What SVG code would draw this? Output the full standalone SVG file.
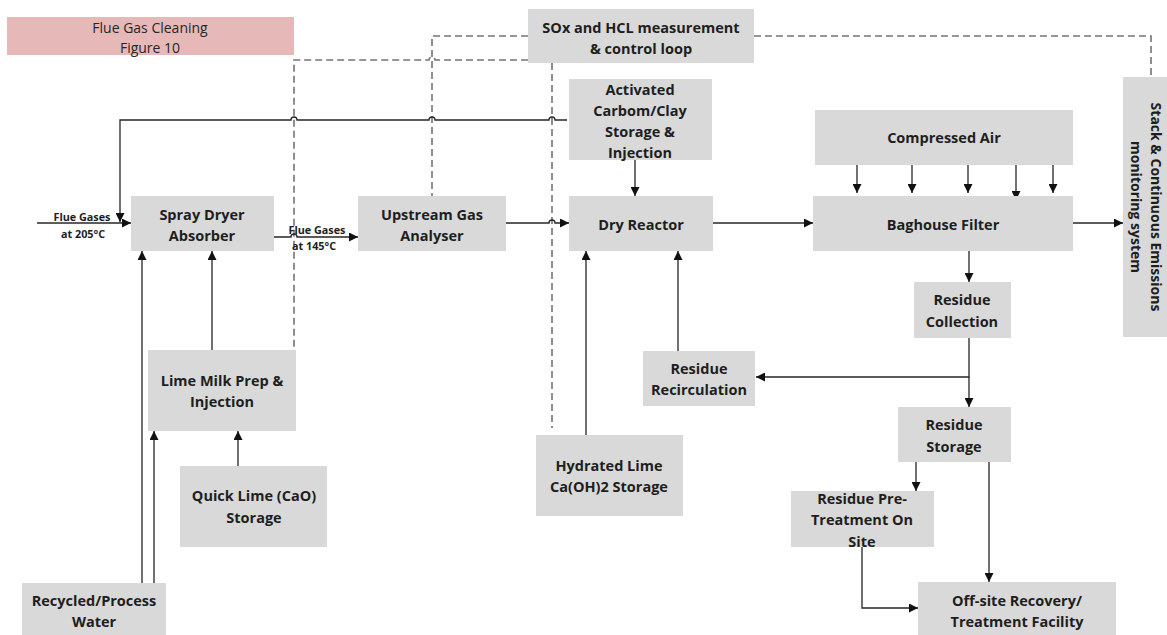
<svg xmlns="http://www.w3.org/2000/svg" width="1167" height="635" viewBox="0 0 1167 635">
  <style>
    .box { fill: #d9d9d9; }
    .lbl { font-family: "Open Sans", "Liberation Sans", sans-serif; font-size: 14.5px; font-weight: bold; fill: #1e1e1e; text-anchor: middle; dominant-baseline: central; }
    .vert { font-size: 14px; }
    .small { font-family: "Open Sans", "Liberation Sans", sans-serif; font-size: 10.8px; font-weight: bold; fill: #1e1e1e; text-anchor: middle; dominant-baseline: central; }
    .title { font-family: "Open Sans", "Liberation Sans", sans-serif; font-size: 14px; fill: #262626; text-anchor: middle; dominant-baseline: central; }
    .flow { fill: none; stroke: #262626; stroke-width: 1.3; }
    .ctrl { fill: none; stroke: #747474; stroke-width: 1.6; stroke-dasharray: 7 4; }
  </style>
  <defs>
    <marker id="arrow" viewBox="0 0 10 10" refX="10" refY="5" markerWidth="9" markerHeight="9" markerUnits="userSpaceOnUse" orient="auto">
      <path d="M0,0 L10,5 L0,10 Z" fill="#111"/>
    </marker>
  </defs>

  <rect width="1167" height="635" fill="#ffffff"/>

  <!-- caption block -->
  <g id="title">
    <rect x="7" y="17" width="287" height="38" fill="#e6b9b8"/>
    <text class="title" x="150" y="27">Flue Gas Cleaning</text>
    <text class="title" x="150" y="47">Figure 10</text>
  </g>

  <!-- process and control connectors -->
  <g id="connectors">
    <!-- control loop signals (dashed) -->
    <path class="ctrl" d="M754,36 H1151 V77"/>
    <path class="ctrl" d="M528,36 H432 V196"/>
    <path class="ctrl" d="M528,60 H435 a3,3 0 0 0 -6,0 H294 V350"/>
    <path class="ctrl" d="M552,63 V428"/>

    <!-- gas path -->
    <path class="flow" d="M37,223 H131" marker-end="url(#arrow)"/>
    <path class="flow" d="M567,120 H555 a3,3 0 0 0 -6,0 H435 a3,3 0 0 0 -6,0 H297 a3,3 0 0 0 -6,0 H120 V222" marker-end="url(#arrow)"/>
    <path class="flow" d="M274,237 H291 a3,3 0 0 1 6,0 H358" marker-end="url(#arrow)"/>
    <path class="flow" d="M506,223 H549 a3,3 0 0 1 6,0 H569" marker-end="url(#arrow)"/>
    <path class="flow" d="M635,160 V196" marker-end="url(#arrow)"/>
    <path class="flow" d="M713,223 H813" marker-end="url(#arrow)"/>
    <path class="flow" d="M1073,223 H1123" marker-end="url(#arrow)"/>

    <!-- compressed air pulses -->
    <path class="flow" d="M857,165 V193" marker-end="url(#arrow)"/>
    <path class="flow" d="M912,165 V193" marker-end="url(#arrow)"/>
    <path class="flow" d="M968,165 V193" marker-end="url(#arrow)"/>
    <path class="flow" d="M1016,165 V200" marker-end="url(#arrow)"/>
    <path class="flow" d="M1050,155 H1053 V193" marker-end="url(#arrow)"/>

    <!-- residue handling -->
    <path class="flow" d="M969,251 V282" marker-end="url(#arrow)"/>
    <path class="flow" d="M969,338 V377 H756" marker-end="url(#arrow)"/>
    <path class="flow" d="M969,377 V407" marker-end="url(#arrow)"/>
    <path class="flow" d="M678,351 V251" marker-end="url(#arrow)"/>
    <path class="flow" d="M586,435 V251" marker-end="url(#arrow)"/>
    <path class="flow" d="M916,462 V491" marker-end="url(#arrow)"/>
    <path class="flow" d="M989,462 V582" marker-end="url(#arrow)"/>
    <path class="flow" d="M862,547 V608 H918" marker-end="url(#arrow)"/>

    <!-- reagent feeds -->
    <path class="flow" d="M142,583 V251" marker-end="url(#arrow)"/>
    <path class="flow" d="M154,583 V431" marker-end="url(#arrow)"/>
    <path class="flow" d="M212,350 V251" marker-end="url(#arrow)"/>
    <path class="flow" d="M238,466 V431" marker-end="url(#arrow)"/>
  </g>

  <!-- flow labels -->
  <g id="gas-labels">
    <text class="small" x="82" y="216">Flue Gases</text>
    <text class="small" x="83" y="233">at 205°C</text>
    <text class="small" x="317" y="229">Flue Gases</text>
    <text class="small" x="314" y="245">at 145°C</text>
  </g>

  <g id="sox-hcl-loop">
    <rect class="box" x="528" y="9" width="226" height="54"/>
    <text class="lbl" x="641" y="27">SOx and HCL measurement</text>
    <text class="lbl" x="641" y="48">&amp; control loop</text>
  </g>

  <g id="activated-carbon">
    <rect class="box" x="569" y="79" width="143" height="81"/>
    <text class="lbl" x="640" y="89">Activated</text>
    <text class="lbl" x="640" y="110">Carbom/Clay</text>
    <text class="lbl" x="640" y="131">Storage &amp;</text>
    <text class="lbl" x="640" y="152">Injection</text>
  </g>

  <g id="compressed-air">
    <rect class="box" x="815" y="110" width="258" height="55"/>
    <text class="lbl" x="944" y="137">Compressed Air</text>
  </g>

  <g id="stack-cems">
    <rect class="box" x="1123" y="77" width="50" height="260"/>
    <g transform="translate(1146,207) rotate(90)">
      <text class="lbl vert" x="0" y="-10">Stack &amp; Continuous Emissions</text>
      <text class="lbl vert" x="0" y="10">monitoring system</text>
    </g>
  </g>

  <g id="spray-dryer">
    <rect class="box" x="131" y="196" width="143" height="55"/>
    <text class="lbl" x="202" y="214">Spray Dryer</text>
    <text class="lbl" x="202" y="235">Absorber</text>
  </g>

  <g id="upstream-analyser">
    <rect class="box" x="358" y="196" width="148" height="55"/>
    <text class="lbl" x="432" y="214">Upstream Gas</text>
    <text class="lbl" x="432" y="235">Analyser</text>
  </g>

  <g id="dry-reactor">
    <rect class="box" x="569" y="196" width="144" height="55"/>
    <text class="lbl" x="641" y="224">Dry Reactor</text>
  </g>

  <g id="baghouse">
    <rect class="box" x="813" y="196" width="260" height="55"/>
    <text class="lbl" x="943" y="224">Baghouse Filter</text>
  </g>

  <g id="residue-collection">
    <rect class="box" x="914" y="282" width="97" height="56"/>
    <text class="lbl" x="962" y="299">Residue</text>
    <text class="lbl" x="962" y="321">Collection</text>
  </g>

  <g id="residue-recirculation">
    <rect class="box" x="643" y="351" width="112" height="55"/>
    <text class="lbl" x="699" y="368">Residue</text>
    <text class="lbl" x="699" y="389">Recirculation</text>
  </g>

  <g id="residue-storage">
    <rect class="box" x="898" y="407" width="113" height="55"/>
    <text class="lbl" x="954" y="424">Residue</text>
    <text class="lbl" x="954" y="446">Storage</text>
  </g>

  <g id="residue-pretreatment">
    <rect class="box" x="791" y="491" width="143" height="56"/>
    <text class="lbl" x="862" y="498">Residue Pre-</text>
    <text class="lbl" x="862" y="519">Treatment On</text>
    <text class="lbl" x="862" y="541">Site</text>
  </g>

  <g id="offsite-facility">
    <rect class="box" x="918" y="582" width="198" height="60"/>
    <text class="lbl" x="1017" y="600">Off-site Recovery/</text>
    <text class="lbl" x="1017" y="621">Treatment Facility</text>
  </g>

  <g id="lime-milk">
    <rect class="box" x="148" y="350" width="148" height="81"/>
    <text class="lbl" x="222" y="380">Lime Milk Prep &amp;</text>
    <text class="lbl" x="222" y="401">Injection</text>
  </g>

  <g id="quick-lime">
    <rect class="box" x="180" y="466" width="147" height="81"/>
    <text class="lbl" x="254" y="495">Quick Lime (CaO)</text>
    <text class="lbl" x="254" y="517">Storage</text>
  </g>

  <g id="hydrated-lime">
    <rect class="box" x="536" y="435" width="147" height="81"/>
    <text class="lbl" x="609" y="465">Hydrated Lime</text>
    <text class="lbl" x="609" y="486">Ca(OH)2 Storage</text>
  </g>

  <g id="process-water">
    <rect class="box" x="22" y="583" width="144" height="60"/>
    <text class="lbl" x="94" y="600">Recycled/Process</text>
    <text class="lbl" x="94" y="621">Water</text>
  </g>
</svg>
